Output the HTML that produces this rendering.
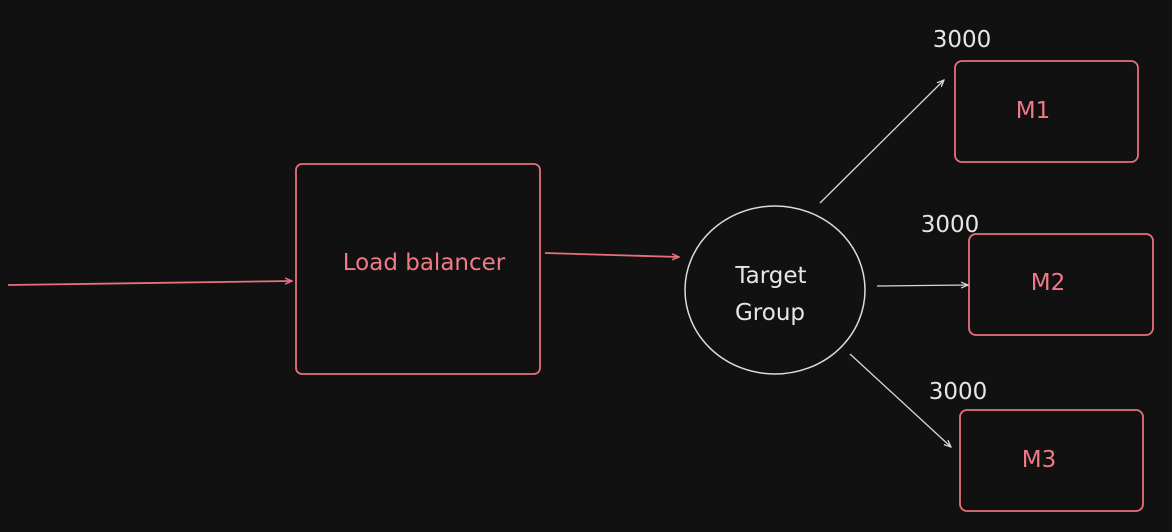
<!DOCTYPE html>
<html><head><style>
html,body{margin:0;padding:0;background:#111111;width:1172px;height:532px;overflow:hidden}
svg text{font-family:"DejaVu Sans","Liberation Sans",sans-serif}
</style></head><body>
<svg width="1172" height="532" viewBox="0 0 1172 532" xmlns="http://www.w3.org/2000/svg">
<defs>
<marker id="ar" markerWidth="8" markerHeight="8" refX="7" refY="4" orient="auto" markerUnits="userSpaceOnUse"><path d="M0,1 L7,4 L0,7" fill="none" stroke="#e8707a" stroke-width="1.5"/></marker>
<marker id="aw" markerWidth="8" markerHeight="8" refX="7" refY="4" orient="auto" markerUnits="userSpaceOnUse"><path d="M0,1 L7,4 L0,7" fill="none" stroke="#d8d8d8" stroke-width="1.3"/></marker>
</defs>
<rect width="1172" height="532" fill="#111111"/>
<g fill="none" stroke="#e8707a" stroke-width="1.8">
<rect x="296" y="164" width="244" height="210" rx="6"/>
<rect x="955" y="61" width="183" height="101" rx="7"/>
<rect x="969" y="234" width="184" height="101" rx="7"/>
<rect x="960" y="410" width="183" height="101" rx="7"/>
<line x1="8" y1="285" x2="292" y2="281" marker-end="url(#ar)"/>
<line x1="545" y1="253" x2="679" y2="257" marker-end="url(#ar)"/>
</g>
<ellipse cx="775" cy="290" rx="90" ry="84" fill="none" stroke="#dcdcdc" stroke-width="1.5"/>
<g stroke="#d8d8d8" stroke-width="1.3" fill="none">
<line x1="820" y1="203" x2="944" y2="80" marker-end="url(#aw)"/>
<line x1="877" y1="286" x2="968" y2="285" marker-end="url(#aw)"/>
<line x1="850" y1="354" x2="951" y2="447" marker-end="url(#aw)"/>
</g>
<g fill="#f07a85" font-size="23" text-anchor="middle">
<text x="424" y="270">Load balancer</text>
<text x="1033" y="118">M1</text>
<text x="1048" y="290">M2</text>
<text x="1039" y="467">M3</text>
</g>
<g fill="#e6e6e6" font-size="23" text-anchor="middle">
<text x="771" y="283">Target</text>
<text x="770" y="320">Group</text>
<text x="962" y="47">3000</text>
<text x="950" y="232">3000</text>
<text x="958" y="399">3000</text>
</g>
</svg>
</body></html>
